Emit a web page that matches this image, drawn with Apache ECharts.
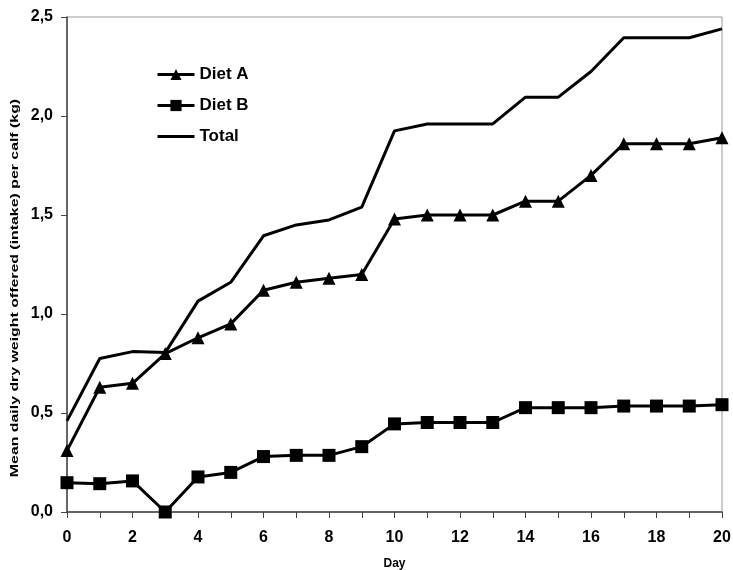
<!DOCTYPE html>
<html><head><meta charset="utf-8">
<script src="https://cdn.jsdelivr.net/npm/echarts@6/dist/echarts.min.js"></script>
<style>html,body{margin:0;padding:0;background:#fff}#c{width:733px;height:570px}</style>
</head><body><div id="c"></div>
<script>
const days = [0,1,2,3,4,5,6,7,8,9,10,11,12,13,14,15,16,17,18,19,20];
const dietA = [0.31,0.63,0.65,0.80,0.88,0.95,1.12,1.16,1.18,1.20,1.48,1.50,1.50,1.50,1.57,1.57,1.70,1.86,1.86,1.86,1.89];
const dietB = [0.148,0.143,0.157,0.0,0.177,0.20,0.28,0.286,0.286,0.33,0.445,0.452,0.452,0.452,0.527,0.527,0.527,0.535,0.535,0.535,0.542];
const total = [0.46,0.775,0.81,0.805,1.065,1.16,1.395,1.45,1.475,1.54,1.925,1.96,1.96,1.96,2.095,2.095,2.225,2.395,2.395,2.395,2.44];
const seriesNames = ['Diet A','Diet B','Total'];
const yTitle = 'Mean daily dry weight offered (intake) per calf (kg)';
const xTitle = 'Day';

const pair = arr => days.map((d,i)=>[d,arr[i]]);
const chart = echarts.init(document.getElementById('c'));
const font = 'Arial, "Liberation Sans", sans-serif';
chart.setOption({
  animation:false,
  grid:{left:67,right:11,top:17,bottom:58,show:true,borderColor:'#999',borderWidth:1,outerBoundsMode:'none',containLabel:false},
  legend:{
    orient:'vertical',left:156,top:66,padding:0,itemGap:14,itemWidth:37,itemHeight:14,
    lineStyle:{width:3,color:'#000'},
    textStyle:{fontFamily:font,fontWeight:'bold',fontSize:17,color:'#000'},
    data:[{name:seriesNames[0]},{name:seriesNames[1]},{name:seriesNames[2],itemStyle:{opacity:0}}]
  },
  graphic:[{
    type:'text',x:15,y:288,rotation:Math.PI/2,scaleX:1.38,scaleY:1,
    style:{text:yTitle,font:'bold 11.5px '+font,fill:'#000',align:'center',verticalAlign:'middle'}
  }],
  xAxis:{
    type:'value',min:0,max:20,interval:1,
    name:xTitle,nameLocation:'middle',nameGap:46,
    nameTextStyle:{fontFamily:font,fontWeight:'bold',fontSize:12,color:'#000'},
    axisLine:{onZero:false,lineStyle:{color:'#444',width:1.5}},
    axisTick:{show:true,length:6,lineStyle:{color:'#444'}},
    axisLabel:{fontFamily:font,fontWeight:'bold',fontSize:16,color:'#000',margin:18,
      formatter:v=>(v%2===0?String(v):'')},
    splitLine:{show:false}
  },
  yAxis:{
    type:'value',min:0,max:2.5,interval:0.5,
    axisLine:{show:true,lineStyle:{color:'#444',width:1.5}},
    axisTick:{show:true,length:6,lineStyle:{color:'#444'}},
    axisLabel:{fontFamily:font,fontWeight:'bold',fontSize:16,color:'#000',margin:14,
      formatter:v=>v.toFixed(1).replace('.',',')},
    splitLine:{show:false}
  },
  series:[
    {name:'Diet A',type:'line',data:pair(dietA),symbol:'triangle',symbolSize:13,
      lineStyle:{color:'#000',width:3},itemStyle:{color:'#000'}},
    {name:'Diet B',type:'line',data:pair(dietB),symbol:'rect',symbolSize:13,
      lineStyle:{color:'#000',width:3},itemStyle:{color:'#000'}},
    {name:'Total',type:'line',data:pair(total),symbol:'circle',showSymbol:false,
      lineStyle:{color:'#000',width:3},itemStyle:{color:'#000'}}
  ]
});
</script></body></html>
